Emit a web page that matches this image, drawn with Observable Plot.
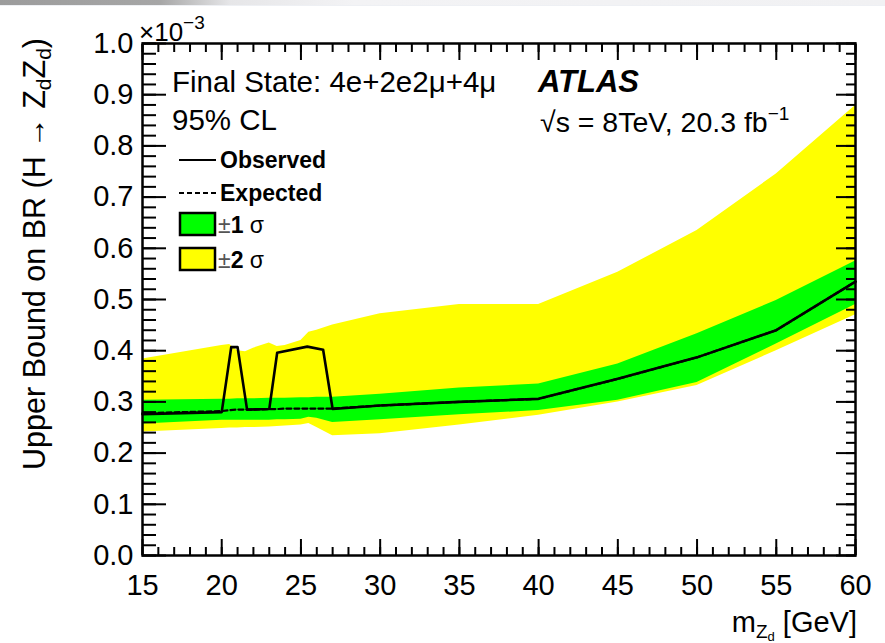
<!DOCTYPE html>
<html>
<head>
<meta charset="utf-8">
<script src="https://cdn.jsdelivr.net/npm/d3@7"></script>
<script src="https://cdn.jsdelivr.net/npm/@observablehq/plot@0.6"></script>
<style>
  html, body { margin: 0; padding: 0; background: #fff; }
  #chart { position: absolute; left: 0; top: 0; }
  #topbar {
    position: absolute; left: 0; top: 0; width: 885px; height: 5px;
    background: linear-gradient(to right, #9c9c9c 0%, #a6a6a6 18%, #e6e6e8 26%, #f3f3f5 40%, #f1f1f3 100%);
    border-bottom: 1px solid #eef0f4;
  }
</style>
</head>
<body>
<div id="chart"></div>
<div id="topbar"></div>
<script>
// Z_d mass points (GeV) where the expected limit and its bands are given
const bandMass = [15, 20, 20.5, 21, 21.5, 22, 23, 23.5, 24, 25, 25.5, 26, 27, 30, 35, 40, 45, 50, 55, 60];
// limits on BR(H -> Z_d Z_d), in units of 1e-3
const expected = [0.278, 0.282, 0.284, 0.285, 0.285, 0.285, 0.286, 0.286, 0.287, 0.287, 0.287, 0.287, 0.287, 0.293, 0.300, 0.306, 0.345, 0.387, 0.440, 0.535];
const sigma1Lo = [0.257, 0.264, 0.264, 0.264, 0.264, 0.264, 0.264, 0.265, 0.265, 0.266, 0.270, 0.268, 0.260, 0.265, 0.275, 0.283, 0.303, 0.338, 0.413, 0.490];
const sigma1Hi = [0.303, 0.305, 0.305, 0.306, 0.306, 0.306, 0.307, 0.307, 0.307, 0.308, 0.308, 0.309, 0.309, 0.315, 0.327, 0.335, 0.374, 0.433, 0.498, 0.575];
const sigma2Lo = [0.241, 0.248, 0.249, 0.249, 0.250, 0.250, 0.251, 0.252, 0.253, 0.255, 0.258, 0.250, 0.234, 0.238, 0.255, 0.274, 0.300, 0.332, 0.400, 0.470];
const sigma2Hi = [0.384, 0.410, 0.412, 0.400, 0.398, 0.405, 0.415, 0.408, 0.410, 0.420, 0.436, 0.440, 0.450, 0.472, 0.490, 0.490, 0.553, 0.635, 0.745, 0.879];

// observed limit
const obsMass  = [15, 20, 20.6, 21.0, 21.6, 23.0, 23.5, 25.4, 26.4, 27.0, 30, 35, 40, 45, 50, 55, 60];
const observed = [0.276, 0.280, 0.407, 0.407, 0.285, 0.286, 0.396, 0.408, 0.402, 0.286, 0.293, 0.300, 0.306, 0.345, 0.387, 0.440, 0.535];

// axis ticks
const xMajorTicks = [15, 20, 25, 30, 35, 40, 45, 50, 55, 60];
const xMinorTicks = d3.range(15, 61, 1);
const yMajorTicks = [0, 0.1, 0.2, 0.3, 0.4, 0.5, 0.6, 0.7, 0.8, 0.9, 1.0];
const yMinorTicks = d3.range(0, 51).map(i => i / 50);

const bands = bandMass.map((m, i) => ({
  m, exp: expected[i],
  lo1: sigma1Lo[i], hi1: sigma1Hi[i],
  lo2: sigma2Lo[i], hi2: sigma2Hi[i]
}));
const obs = obsMass.map((m, i) => ({m, obs: observed[i]}));

const FONT = "'Liberation Sans', Arial, Helvetica, sans-serif";

const plot = Plot.plot({
  width: 885,
  height: 643,
  marginLeft: 142,
  marginRight: 30,
  marginTop: 43,
  marginBottom: 88,
  style: {fontFamily: FONT, background: "white", color: "black", overflow: "visible"},
  x: {domain: [15, 60]},
  y: {domain: [0, 1]},
  marks: [
    Plot.areaY(bands, {x: "m", y1: "lo2", y2: "hi2", fill: "#ffff00"}),
    Plot.areaY(bands, {x: "m", y1: "lo1", y2: "hi1", fill: "#00ff00"}),
    Plot.line(bands, {x: "m", y: "exp", stroke: "black", strokeWidth: 2.2, strokeDasharray: "5,3"}),
    Plot.line(obs, {x: "m", y: "obs", stroke: "black", strokeWidth: 2.6}),

    // inward tick marks on all four sides
    Plot.axisX({anchor: "bottom", ticks: xMinorTicks, tickSize: -8, fill: "none", strokeWidth: 2, label: null}),
    Plot.axisX({anchor: "bottom", ticks: xMajorTicks, tickSize: -16, fill: "none", strokeWidth: 2, label: null}),
    Plot.axisX({anchor: "top", ticks: xMinorTicks, tickSize: -8, fill: "none", strokeWidth: 2, label: null}),
    Plot.axisX({anchor: "top", ticks: xMajorTicks, tickSize: -16, fill: "none", strokeWidth: 2, label: null}),
    Plot.axisY({anchor: "left", ticks: yMinorTicks, tickSize: -14, fill: "none", strokeWidth: 2, label: null}),
    Plot.axisY({anchor: "left", ticks: yMajorTicks, tickSize: -24, fill: "none", strokeWidth: 2, label: null}),
    Plot.axisY({anchor: "right", ticks: yMinorTicks, tickSize: -10, fill: "none", strokeWidth: 2, label: null}),
    Plot.axisY({anchor: "right", ticks: yMajorTicks, tickSize: -20, fill: "none", strokeWidth: 2, label: null}),

    // tick labels
    Plot.axisX({anchor: "bottom", ticks: xMajorTicks, tickSize: 0, tickPadding: 19, fontSize: 29,
                tickFormat: d => String(d), label: null}),
    Plot.axisY({anchor: "left", ticks: yMajorTicks, tickSize: 0, tickPadding: 9, fontSize: 29,
                tickFormat: d3.format(".1f"), label: null}),

    Plot.frame({stroke: "black", strokeWidth: 2.5})
  ]
});

document.getElementById("chart").appendChild(plot);

// annotations, axis titles and legend
const svg = d3.select(plot);
const g = svg.append("g")
  .attr("font-family", FONT)
  .attr("fill", "black")
  .attr("text-anchor", "start");

// exponent of the y axis
const expo = g.append("text").attr("x", 139).attr("y", 41).attr("font-size", 26);
expo.append("tspan").text("×10");
expo.append("tspan").attr("dy", -12).attr("font-size", 19).text("−3");

// y-axis title
const yt = g.append("text")
  .attr("transform", "translate(45,38) rotate(-90)")
  .attr("text-anchor", "end")
  .attr("font-size", 30.5);
yt.append("tspan").text("Upper Bound on BR (H → Z");
yt.append("tspan").attr("dy", 6).attr("font-size", 21).text("d");
yt.append("tspan").attr("dy", -6).text("Z");
yt.append("tspan").attr("dy", 6).attr("font-size", 21).text("d");
yt.append("tspan").attr("dy", -6).text(")");

// x-axis title
const xt = g.append("text")
  .attr("x", 857).attr("y", 632)
  .attr("text-anchor", "end")
  .attr("font-size", 29);
xt.append("tspan").text("m");
xt.append("tspan").attr("dy", 6).attr("font-size", 19).text("Z");
xt.append("tspan").attr("dy", 3).attr("font-size", 13).text("d");
xt.append("tspan").attr("dy", -9).text(" [GeV]");

// analysis labels
g.append("text").attr("x", 172).attr("y", 92).attr("font-size", 29.5)
  .text("Final State: 4e+2e2μ+4μ");
g.append("text").attr("x", 172).attr("y", 130).attr("font-size", 29.5)
  .text("95% CL");
g.append("text").attr("x", 538).attr("y", 92).attr("font-size", 31)
  .attr("font-weight", "bold").attr("font-style", "italic")
  .text("ATLAS");
const lumi = g.append("text").attr("x", 540).attr("y", 132).attr("font-size", 28.5);
lumi.append("tspan").text("√s = 8TeV, 20.3 fb");
lumi.append("tspan").attr("dy", -12).attr("font-size", 19).text("−1");

// legend
g.append("line").attr("x1", 179).attr("x2", 216).attr("y1", 160).attr("y2", 160)
  .attr("stroke", "black").attr("stroke-width", 2.2);
g.append("text").attr("x", 220).attr("y", 168).attr("font-size", 23).attr("font-weight", "bold")
  .text("Observed");
g.append("line").attr("x1", 179).attr("x2", 216).attr("y1", 193).attr("y2", 193)
  .attr("stroke", "black").attr("stroke-width", 2.2).attr("stroke-dasharray", "5,3");
g.append("text").attr("x", 220).attr("y", 201).attr("font-size", 23).attr("font-weight", "bold")
  .text("Expected");

const legendBands = [
  {color: "#00ff00", n: "1", y: 213},
  {color: "#ffff00", n: "2", y: 248}
];
for (const b of legendBands) {
  g.append("rect").attr("x", 180).attr("y", b.y).attr("width", 35).attr("height", 22)
    .attr("fill", b.color).attr("stroke", "black").attr("stroke-width", 2.5);
  const t = g.append("text").attr("x", 218).attr("y", b.y + 20).attr("font-size", 23);
  t.append("tspan").attr("fill", "#555").text("±");
  t.append("tspan").attr("font-weight", "bold").text(b.n);
  t.append("tspan").text(" σ");
}
</script>
</body>
</html>
